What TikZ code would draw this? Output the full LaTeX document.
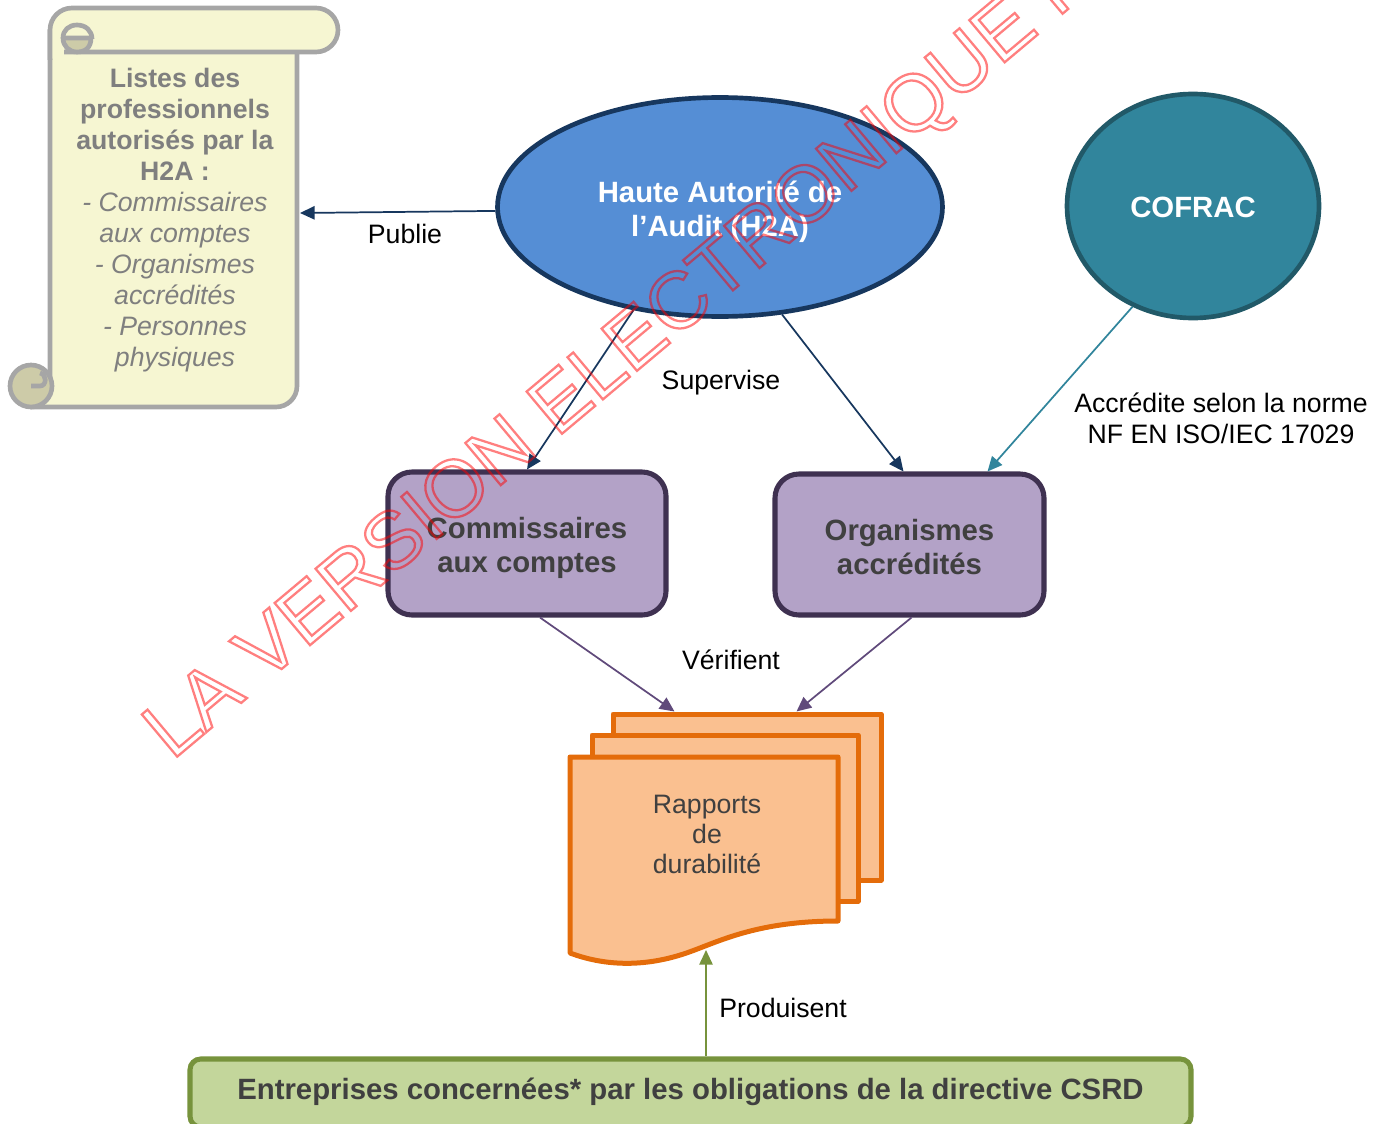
\documentclass[tikz,border=0pt]{standalone}
\usepackage{fontspec}
\setmainfont{Liberation Sans}
\usetikzlibrary{shapes.geometric,arrows.meta,calc}
\definecolor{hblue}{HTML}{558ED5}
\definecolor{hnavy}{HTML}{17375E}
\definecolor{cteal}{HTML}{31859C}
\definecolor{cdark}{HTML}{215968}
\definecolor{pfill}{HTML}{B3A2C7}
\definecolor{pdraw}{HTML}{3F3151}
\definecolor{parrow}{HTML}{604A7B}
\definecolor{ofill}{HTML}{FAC090}
\definecolor{odraw}{HTML}{E46C0A}
\definecolor{gfill}{HTML}{C3D69B}
\definecolor{gdraw}{HTML}{77933C}
\definecolor{sfill}{HTML}{F6F6D2}
\definecolor{scurl}{HTML}{CDCBA8}
\definecolor{sdraw}{HTML}{A6A6A6}
\definecolor{stext}{HTML}{7F7F7F}
\definecolor{dtext}{HTML}{404040}
\definecolor{wm}{HTML}{FF0000}
\newcommand{\strokedtext}[1]{\special{pdf:literal direct 1 Tr 1.7 w}#1\special{pdf:literal direct 0 Tr}}
\begin{document}
\begin{tikzpicture}[x=0.75pt,y=-0.75pt,
  lbl/.style={font=\fontsize{20}{23.25}\selectfont, text=black, align=center, inner sep=0pt},
  bigb/.style={font=\fontsize{22}{25.5}\selectfont\bfseries, align=center, inner sep=0pt},
  conn/.style={line width=1.3pt, -{Triangle[length=11pt,width=10pt]}},
  purplebox/.style={rectangle, rounded corners=18pt, draw=pdraw, fill=pfill, line width=3.8pt},
  docsheet/.style={rectangle, draw=odraw, fill=ofill, line width=3.75pt, line join=round, inner sep=0pt},
  scrollline/.style={line width=3.5pt, draw=sdraw, line join=round}
]
\useasboundingbox (0,0) rectangle (1381,1124);
\begin{scope}
\clip (0,0) rectangle (1381,1124);

% ---- scroll ----
\filldraw[scrollline, fill=sfill] (50,30) -- (50,386) -- (31,386) -- (31,407) [rounded corners=15.75pt] -- (297,407) -- (297,30) [sharp corners] -- cycle;
\filldraw[scrollline, fill=scurl] (31,386) circle[radius=21];
\draw[scrollline] (31,386) -- (40,386) .. controls (47,386) and (47,374) .. (40,373);
\filldraw[scrollline, fill=sfill, rounded corners=16.5pt] (50,60) -- (50,8) -- (338,8) -- (338,52) -- (64,52);
\filldraw[scrollline, fill=scurl] (63,38) -- (91,38) .. controls (91,47) and (86,52) .. (77,52) .. controls (69,52) and (63,46) .. (63,38) -- cycle;
\draw[scrollline] (63,38) .. controls (63,30) and (69,25) .. (77,25) .. controls (86,25) and (92,31) .. (92,39);
\coordinate (scrollR) at (300,213);
\node[align=center, text=stext, inner sep=0pt, font=\fontsize{20}{23.25}\selectfont] (liste) at (175,220)
  {\textbf{Listes des}\\\textbf{professionnels}\\\textbf{autorisés par la}\\\textbf{H2A :}\\\textit{- Commissaires}\\\textit{aux comptes}\\\textit{- Organismes}\\\textit{accrédités}\\\textit{- Personnes}\\\textit{physiques}};

% ---- main nodes ----
\node[ellipse, draw=hnavy, fill=hblue, line width=3.5pt, minimum width=333.75pt, minimum height=164.25pt] (h2a) at (720,207) {};
\node[bigb, text=white] (h2atext) at (720,212) {Haute Autorité de\\l’Audit (H2A)};
\node[ellipse, draw=cdark, fill=cteal, line width=3.5pt, minimum width=189pt, minimum height=168pt] (cof) at (1193,206) {};
\node[bigb, text=white] (coftext) at (1193,207) {COFRAC};
\node[purplebox, minimum width=208.5pt, minimum height=107.25pt] (cac) at (527,543.5) {};
\node[bigb, text=dtext] (cactext) at (527,547.5) {Commissaires\\aux comptes};
\node[purplebox, minimum width=201.75pt, minimum height=105.75pt] (oa) at (909.5,544.5) {};
\node[bigb, text=dtext] (oatext) at (909.5,547) {Organismes\\accrédités};

% ---- documents ----
\node[docsheet, minimum width=201pt, minimum height=124.5pt] (doc3) at (747,797) {};
\node[docsheet, minimum width=199.5pt, minimum height=124.5pt] (doc2) at (725,818) {};
\filldraw[draw=odraw, fill=ofill, line width=3.75pt, line join=round] (570,757) -- (838,757) -- (838,921) .. controls (760,921) and (722,940) .. (692,951) .. controls (652,966) and (610,968) .. (570,953) -- cycle;
\node[align=center, text=dtext, inner sep=0pt, font=\fontsize{20}{22.5}\selectfont] (rap) at (707,834) {Rapports\\de\\durabilité};
\coordinate (wave) at (706,950);

\node[rectangle, rounded corners=8pt, draw=gdraw, fill=gfill, line width=3.8pt, minimum width=750.75pt, minimum height=51pt] (ent) at (690.5,1093) {};
\node[bigb, text=dtext] (enttext) at (690.5,1092) {Entreprises concernées* par les obligations de la directive CSRD};

% ---- connectors ----
\draw[conn, hnavy] (h2a.181) -- (scrollR);
\draw[conn, hnavy] (h2a.230.5) -- (cac.north);
\draw[conn, hnavy] (h2a.300.8) -- ($(oa.north)+(-6,0)$);
\draw[conn, cteal] (cof.239.6) -- ($(oa.north)+(78,0)$);
\draw[conn, parrow] ($(cac.south)+(13,0)$) -- ($(doc3.north west)+(64,0)$);
\draw[conn, parrow] ($(oa.south)+(2,0)$) -- ($(doc3.north west)+(186,0)$);
\draw[conn, gdraw] (ent.north -| wave) -- (wave);

% ---- labels ----
\node[lbl] (publie) at (405,234) {Publie};
\node[lbl] (supervise) at (721,383) {Supervise};
\node[lbl] (accredite) at (1221,418) {Accrédite selon la norme\\NF EN ISO/IEC 17029};
\node[lbl] (verifient) at (731,660) {Vérifient};
\node[lbl] (produisent) at (783,1008) {Produisent};

% ---- watermark ----
\begin{scope}[draw opacity=0.5]
\node[rotate=40, anchor=base west, inner sep=0pt, font=\fontsize{60}{60}\selectfont, text=wm] (wmark) at (172,761)
  {\strokedtext{LA VERSION ELECTRONIQUE FAIT FOI}};
\end{scope}
\end{scope}
\end{tikzpicture}
\end{document}
